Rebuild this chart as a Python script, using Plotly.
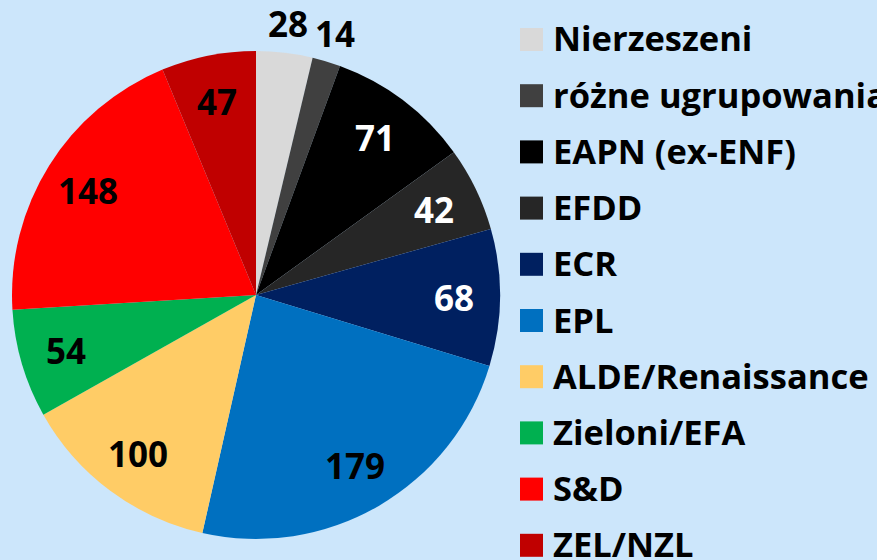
import math
import plotly.graph_objects as go

categories = ["Nierzeszeni", "różne ugrupowania", "EAPN (ex-ENF)", "EFDD", "ECR", "EPL",
              "ALDE/Renaissance", "Zieloni/EFA", "S&D", "ZEL/NZL"]
values = [28, 14, 71, 42, 68, 179, 100, 54, 148, 47]
colors = ["#D9D9D9", "#404040", "#000000", "#262626", "#002060", "#0070C0",
          "#FFCC66", "#00B050", "#FF0000", "#C00000"]
text_colors = ["#000000", "#000000", "#FFFFFF", "#FFFFFF", "#FFFFFF", "#000000",
               "#000000", "#000000", "#000000", "#000000"]

W, H = 877, 560
BG = "#CCE6FB"
FONT = "Open Sans"

# pie geometry (pixels)
cx, cy, R = 256, 295, 244
dom_x = [(cx - R) / W, (cx + R) / W]
dom_y = [(H - (cy + R)) / H, (H - (cy - R)) / H]

fig = go.Figure()
fig.add_trace(go.Pie(
    labels=categories, values=values, sort=False, direction="clockwise", rotation=0,
    marker=dict(colors=colors, line=dict(width=0)),
    textinfo="none", hoverinfo="label+value", showlegend=False,
    domain=dict(x=dom_x, y=dom_y),
))

annotations = []
shapes = []
total = sum(values)
cum = 0
for v, tc in zip(values, text_colors):
    mid = (cum + v / 2) / total * 2 * math.pi
    cum += v
    outside = v < 30
    rf = 1.12 if outside else 0.81
    px = cx + rf * R * math.sin(mid)
    py = cy - rf * R * math.cos(mid)
    annotations.append(dict(
        x=px / W, y=1 - py / H, xref="paper", yref="paper",
        text=str(v), showarrow=False, xanchor="center", yanchor="middle",
        font=dict(family=FONT, size=35, color="#000000" if outside else tc, weight=700),
    ))

# legend
row0, step = 39.5, 56.2
for i, (lab, col) in enumerate(zip(categories, colors)):
    yc = row0 + i * step
    shapes.append(dict(type="rect", xref="paper", yref="paper",
                       x0=520 / W, x1=543 / W, y0=1 - (yc + 11.5) / H, y1=1 - (yc - 11.5) / H,
                       fillcolor=col, line=dict(width=0)))
    annotations.append(dict(
        x=551 / W, y=1 - (yc - 1.5) / H, xref="paper", yref="paper",
        text=lab, showarrow=False, xanchor="left", yanchor="middle",
        font=dict(family=FONT, size=34.5, color="#000000", weight=700),
    ))

fig.update_layout(
    width=W, height=H, margin=dict(l=0, r=0, t=0, b=0),
    paper_bgcolor=BG, plot_bgcolor=BG,
    annotations=annotations, shapes=shapes,
)
fig.write_html("out.html", config={"displayModeBar": False},
               post_script=["document.body.style.margin='0';document.body.style.overflow='hidden';"])
